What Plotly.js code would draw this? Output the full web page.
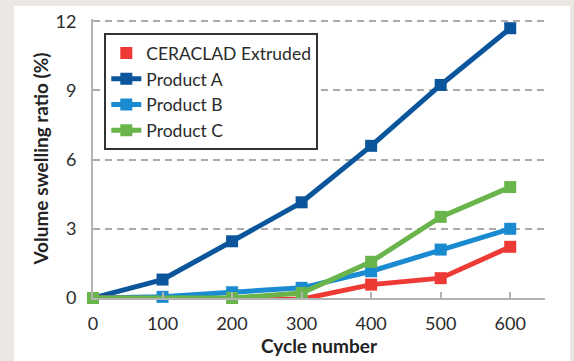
<!DOCTYPE html>
<html><head><meta charset="utf-8">
<script src="https://cdn.plot.ly/plotly-3.0.1.min.js"></script>
<style>
html,body{margin:0;padding:0;background:#ebe7e3;width:574px;height:361px;overflow:hidden}
#chart{position:absolute;left:14px;top:6px;width:556px;height:355px;background:#fff}
</style></head><body>
<div id="chart"></div>
<script>
const cycles = [0, 100, 200, 300, 400, 500, 600];
const ceraclad = [0, -0.05, -0.05, -0.05, 0.58, 0.86, 2.22];
const productA = [0, 0.8, 2.46, 4.15, 6.6, 9.24, 11.7];
const productB = [0, 0.05, 0.25, 0.44, 1.16, 2.1, 3.0];
const productC = [0, -0.02, 0, 0.22, 1.57, 3.52, 4.81];
const names = ['CERACLAD Extruded', 'Product A', 'Product B', 'Product C'];
const xTicks = [0, 100, 200, 300, 400, 500, 600];
const yTicks = [0, 3, 6, 9, 12];

const colors = ['#ee3a35', '#0a559b', '#1a8bd0', '#6ab44c'];
const series = [ceraclad, productA, productB, productC];
const order = [1, 2, 0, 3];
const traces = order.map(i => ({
  x: cycles, y: series[i], name: names[i], type: 'scatter', mode: 'lines+markers',
  line: {color: colors[i], width: 5},
  marker: {symbol: 'square', size: 12, color: colors[i]},
  legendrank: i + 1, cliponaxis: false, legendgroup: 'g' + i,
  showlegend: i !== 0
}));
// legend entry for CERACLAD shows the square marker only
traces.push({x: [null], y: [null], name: names[0], type: 'scatter', mode: 'markers',
  marker: {symbol: 'square', size: 12, color: colors[0]}, legendrank: 1, legendgroup: 'g0'});

const tickFont = {family: 'Lato, sans-serif', size: 18, color: '#2b2b2b'};
const titleFont = {family: 'Lato, sans-serif', size: 19, color: '#222', weight: 'bold'};
const layout = {
  width: 556, height: 355,
  margin: {l: 78.5, r: 25, t: 12.7, b: 62.5},
  paper_bgcolor: '#ffffff', plot_bgcolor: '#ffffff',
  font: {family: 'Lato, sans-serif', color: '#2b2b2b'},
  showlegend: true,
  legend: {x: 0.025, y: 0.949, xanchor: 'left', yanchor: 'top',
    bordercolor: '#333333', borderwidth: 2, bgcolor: '#ffffff',
    font: {family: 'Lato, sans-serif', size: 17.5, color: '#2b2b2b'}, itemwidth: 30, tracegroupgap: 0},
  xaxis: {range: [0, 650], tickvals: xTicks, ticktext: xTicks.map(String),
    showgrid: false, zeroline: false, showline: true, linecolor: '#b3b3b3', linewidth: 2,
    ticks: 'inside', ticklen: 6, tickcolor: '#b3b3b3', tickwidth: 2,
    tickfont: tickFont, ticklabelstandoff: 8,
    title: {text: 'Cycle number', font: titleFont, standoff: 7}},
  yaxis: {range: [0, 12.1], tickvals: yTicks, ticktext: yTicks.map(String),
    showgrid: true, gridcolor: '#ababab', gridwidth: 2, griddash: '7px,5px',
    zeroline: false, showline: true, linecolor: '#b3b3b3', linewidth: 2,
    ticks: '', tickfont: tickFont, ticklabelstandoff: 11,
    title: {text: 'Volume swelling ratio (%)', font: titleFont, standoff: 2}}
};
Plotly.newPlot('chart', traces, layout, {displayModeBar: false, staticPlot: true});
</script></body></html>
